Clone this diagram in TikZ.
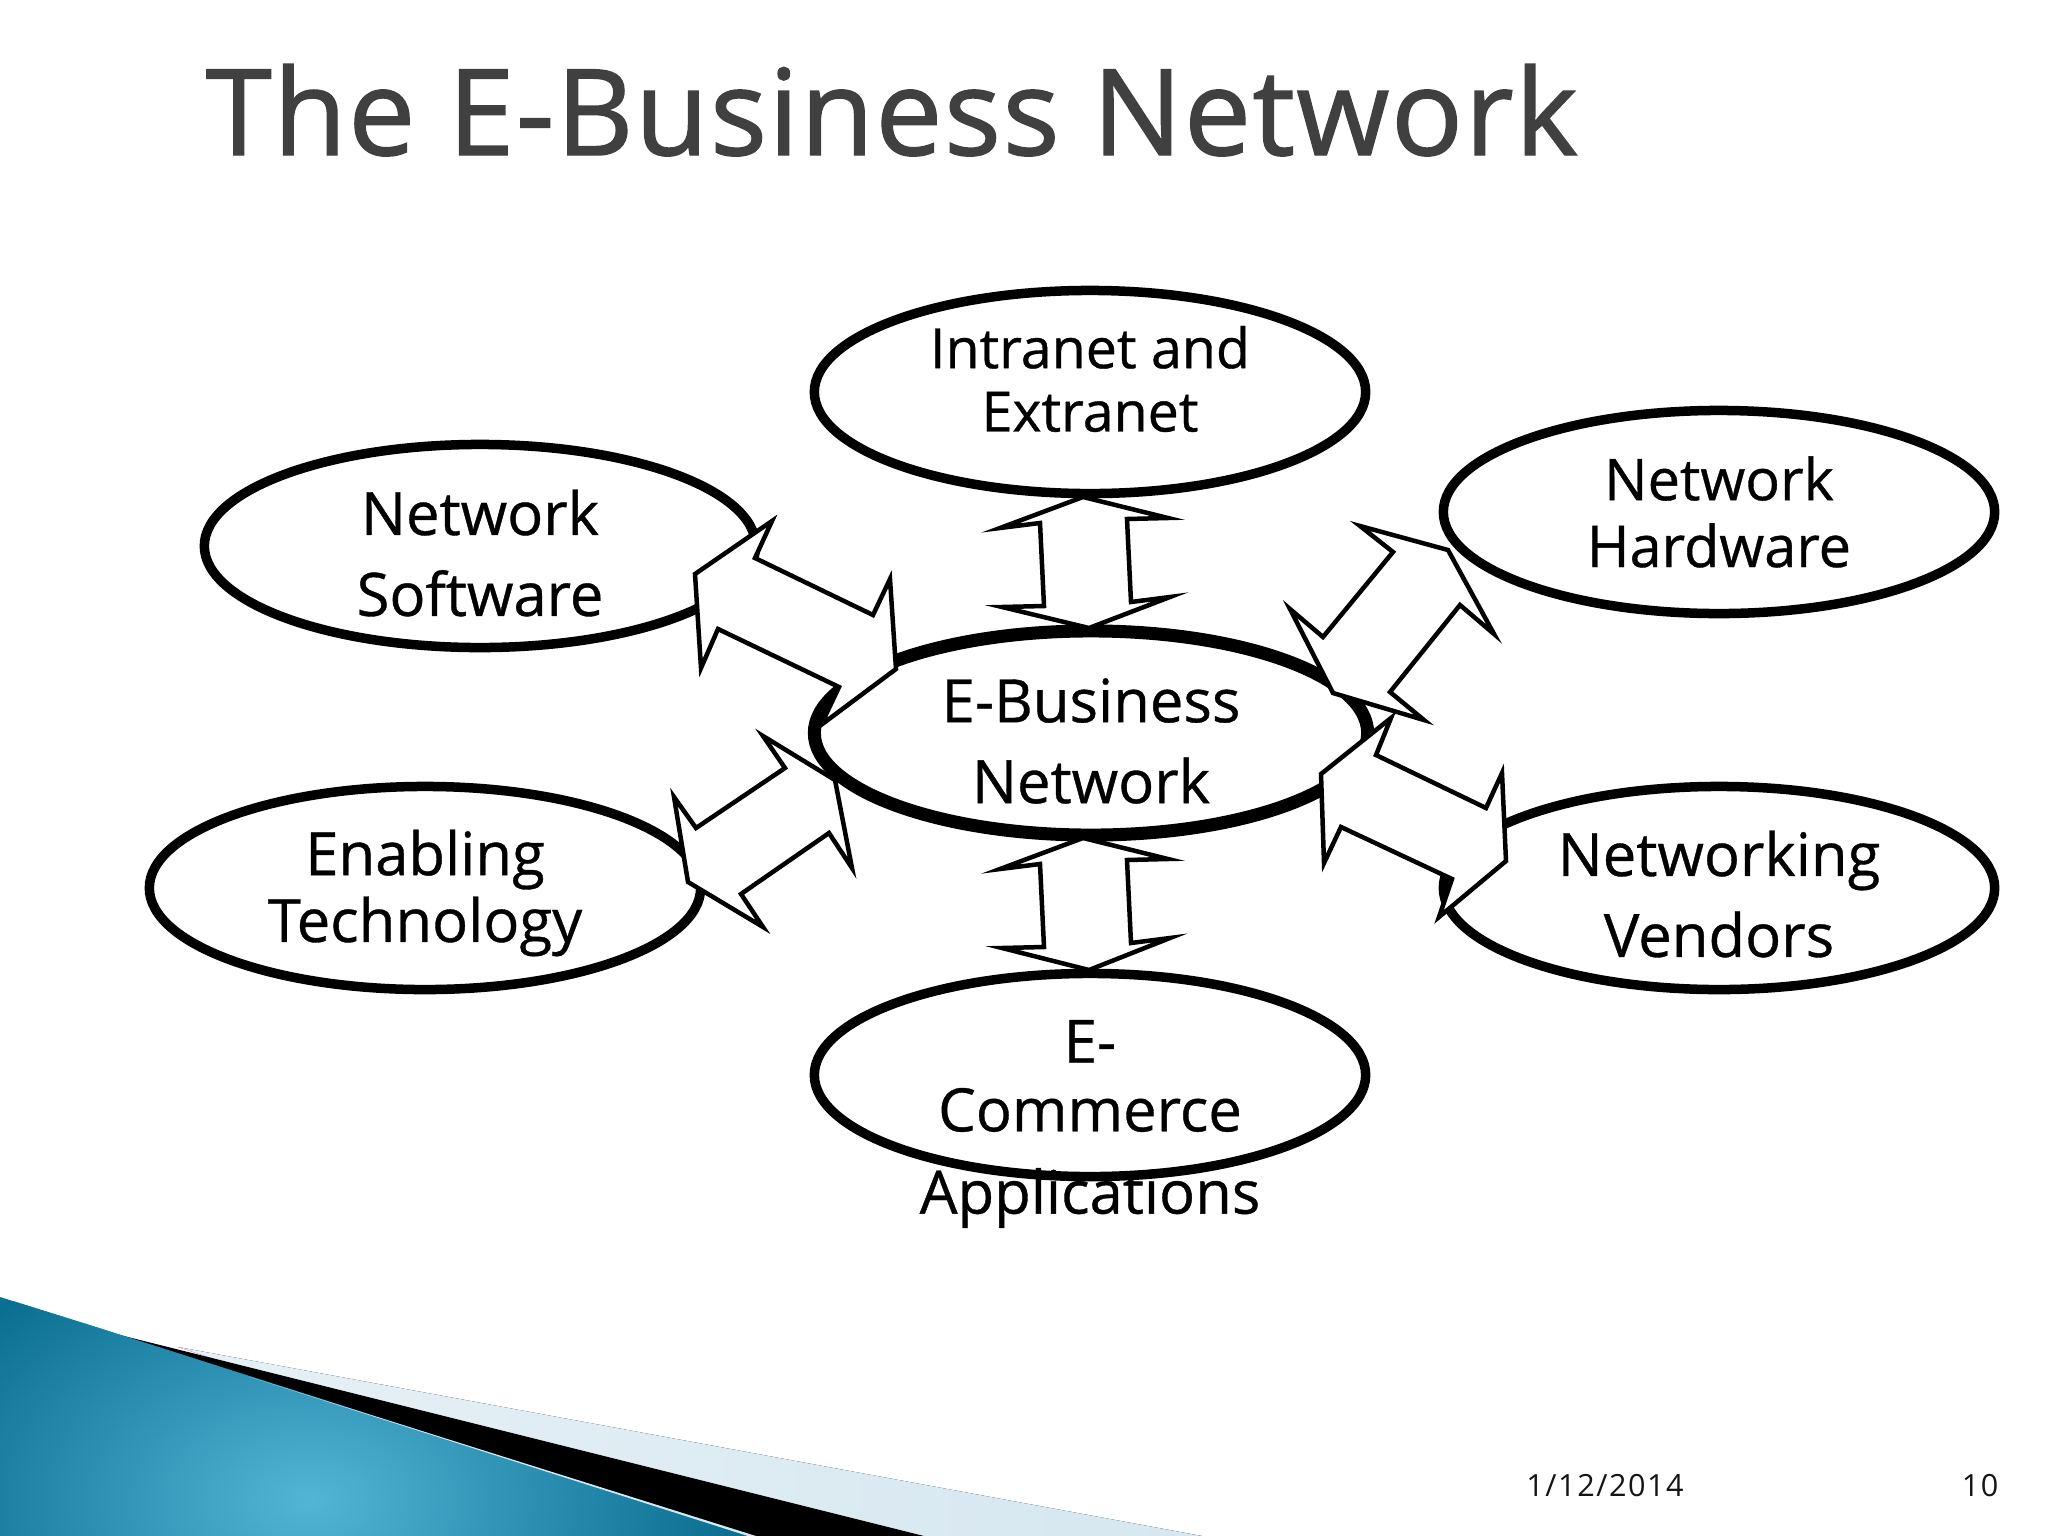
\documentclass[tikz,border=0pt]{standalone}
\usepackage{fontspec}
\setmainfont[FakeBold=0.6]{Open Sans}
\newfontfamily\titlefont[FakeBold=1.2,LetterSpace=1.3]{Open Sans}
\newfontfamily\footfont[LetterSpace=5]{Open Sans}
\usetikzlibrary{shapes.geometric}
\definecolor{tealdark}{HTML}{0B6F92}
\definecolor{teallight}{HTML}{52B5D6}
\definecolor{palewedge}{HTML}{D6E7F0}
\definecolor{titlegray}{HTML}{404040}
\definecolor{footgray}{HTML}{151515}
\begin{document}
\begin{tikzpicture}[
x=0.01cm, y=-0.01cm,
netnode/.style={ellipse, draw=black, fill=white, line width=0.95mm, minimum width=5.51cm, minimum height=2.03cm, inner sep=0pt},
hubnode/.style={netnode, line width=1.3mm, minimum width=5.53cm, minimum height=2.04cm},
netlabel/.style={align=center, font=\fontsize{17}{20}\selectfont, inner sep=0pt},
footlabel/.style={text=footgray, font=\footfont\fontsize{8.7}{10}\selectfont, inner sep=0pt},
blockarrow/.style={draw=black, fill=white, line width=0.45mm, miter limit=10},
]
\useasboundingbox (0,0) rectangle (2048,1536);
\fill[white] (0,0) rectangle (2048,1536);

%Corner
\fill[left color=palewedge!60!white, right color=palewedge] (178,1347) -- (1202,1536) -- (750,1536) -- cycle;
\fill[black] (108,1332) -- (924,1536) -- (750,1536) -- cycle;
\begin{scope}
\clip (0,1297) -- (99,1328) -- (750,1536) -- (0,1536) -- cycle;
\fill[tealdark] (0,1297) rectangle (750,1536);
\shade[inner color=teallight, outer color=tealdark] (310,1500) ellipse (420 and 280);
\end{scope}
\fill[palewedge] (250,1377) -- (756,1536) -- (748,1536) -- cycle;

%Title
\node[anchor=base west, text=titlegray, inner sep=0pt, font=\titlefont\fontsize{34}{40}\selectfont] (title) at (205,155) {The E-Business Network};

%Nodes
\node[hubnode] (hub) at (1091,733) {};
\node[netnode] (intranet) at (1090,392) {};
\node[netnode] (hardware) at (1719,512) {};
\node[netnode] (software) at (480,546) {};
\node[netnode] (enabling) at (425,888) {};
\node[netnode] (vendors) at (1719,888) {};
\node[netnode] (commerce) at (1090,1075) {};

%Labels
\node[netlabel, font=\fontsize{15.8}{20}\selectfont] (intranettext) at (1090,379) {Intranet and\\[-2pt]Extranet};
\node[netlabel, font=\fontsize{16.4}{20}\selectfont] (hardwaretext) at (1719,512) {Network\\[-1pt]Hardware};
\node[netlabel] (softwaretext) at (480,553) {Network\\[3pt]Software};
\node[netlabel] (enablingtext) at (425,893) {Enabling\\[-1pt]Technology};
\node[netlabel] (vendorstext) at (1719,894) {Networking\\[3pt]Vendors};
\node[netlabel] (hubtext) at (1091,741) {E-Business\\[3pt]Network};
\node[netlabel] (commercetext) at (1090,1124) {E-\\[-0.5pt]Commerce\\[3.4pt]Applications};

%Arrows
\coordinate (intranettip) at (1083,497);
\coordinate (hubtop) at (1089,628);
\coordinate (hubbottom) at (1083,838);
\coordinate (commercetip) at (1089,970);
\coordinate (softwaretip) at (695,574);
\coordinate (hubnw) at (896,669);
\coordinate (enablingtip) at (688,882);
\coordinate (hubsw) at (835,780);
\coordinate (hardwaretip) at (1448,550);
\coordinate (hubne) at (1333,693);
\coordinate (hubse) at (1321,774);
\coordinate (vendorstip) at (1506,861);

\draw[blockarrow] (intranettip) -- (1168,518) -- (1127,519) -- (1131,602) -- (1170,597) -- (hubtop) -- (1002,607) -- (1044,606) -- (1040,523) -- (1000,528) -- cycle;
\draw[blockarrow] (hubbottom) -- (1168,859) -- (1127,860) -- (1131,943) -- (1170,938) -- (commercetip) -- (1002,948) -- (1044,947) -- (1040,864) -- (1000,869) -- cycle;
\draw[blockarrow] (softwaretip) -- (772,521) -- (755,558) -- (873,615) -- (890,579) -- (hubnw) -- (821,725) -- (839,687) -- (718,629) -- (701,668) -- cycle;
\draw[blockarrow] (hubsw) -- (763,736) -- (785,768) -- (696,828) -- (674,797) -- (enablingtip) -- (763,927) -- (741,894) -- (829,833) -- (852,868) -- cycle;
\draw[blockarrow] (hardwaretip) -- (1494,634) -- (1460,605) -- (1390,692) -- (1424,720) -- (hubne) -- (1290,609) -- (1323,637) -- (1393,552) -- (1360,526) -- cycle;
\draw[blockarrow] (hubse) -- (1391,718) -- (1376,755) -- (1486,808) -- (1502,773) -- (vendorstip) -- (1439,917) -- (1452,879) -- (1341,827) -- (1324,863) -- cycle;

%Footer
\node[footlabel] (datetext) at (1605,1486) {1/12/2014};
\node[footlabel] (pagetext) at (1980,1486) {10};
\end{tikzpicture}
\end{document}
